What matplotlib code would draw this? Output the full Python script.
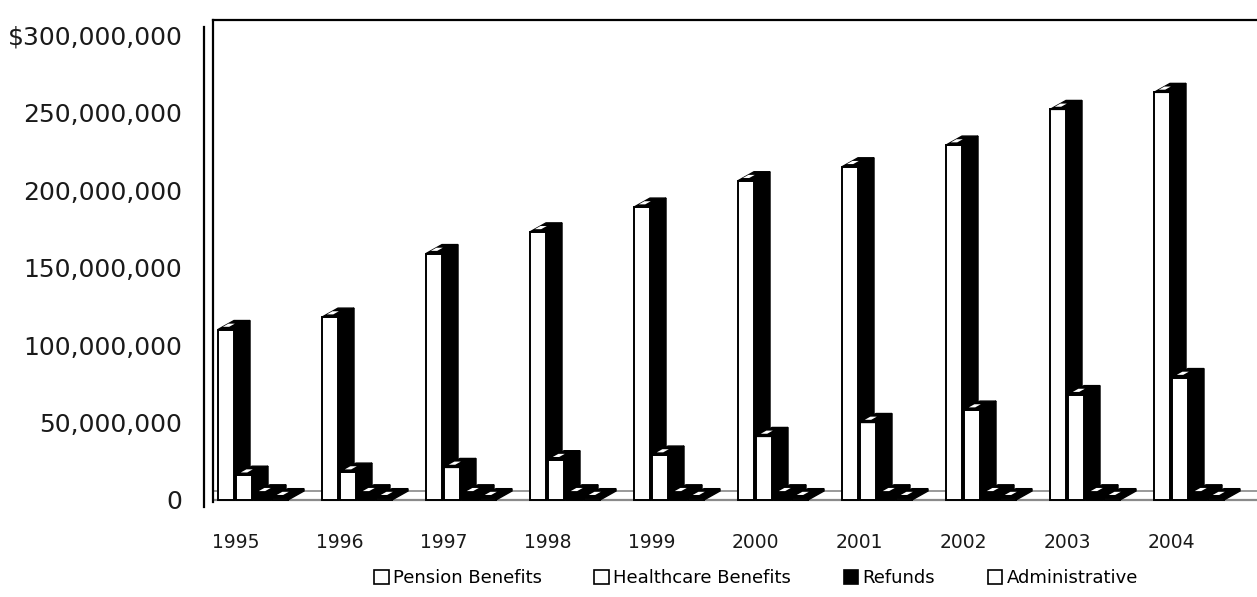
import matplotlib
matplotlib.use("Agg")
import matplotlib.pyplot as plt
from matplotlib.patches import Polygon, Patch
from matplotlib.ticker import FuncFormatter

years = ["1995", "1996", "1997", "1998", "1999", "2000", "2001", "2002", "2003", "2004"]
pension = [110e6, 118e6, 159e6, 173e6, 189e6, 206e6, 215e6, 229e6, 252e6, 263e6]
healthcare = [16e6, 18e6, 21e6, 26e6, 29e6, 41e6, 50e6, 58e6, 68e6, 79e6]
refunds = [4e6, 4e6, 4e6, 4e6, 4e6, 4e6, 4e6, 4e6, 4e6, 4e6]
administrative = [1.5e6, 1.5e6, 1.5e6, 1.5e6, 1.5e6, 1.5e6, 1.5e6, 1.5e6, 1.5e6, 1.5e6]

series_names = ["Pension Benefits", "Healthcare Benefits", "Refunds", "Administrative"]
series_values = [pension, healthcare, refunds, administrative]
series_fronts = ["white", "white", "black", "white"]

# fake 3D geometry, in data units
BAR_W = 0.154
STEP = 0.173
DEPTH_X = 0.154
DEPTH_Y = 5.8e6

plt.rcParams["font.family"] = "DejaVu Sans"

fig = plt.figure(figsize=(12.57, 5.97), dpi=100)
ax = fig.add_axes([213 / 1257, 95 / 597, 1044 / 1257, 482 / 597])
ax.set_xlim(-0.048, -0.048 + 1044 / 104)
ax.set_ylim(-1.3e6, 309.7e6)

# floor edges
ax.axhline(0, color="#8a8a8a", lw=1.6, zorder=1)
ax.axhline(DEPTH_Y, color="#9a9a9a", lw=1.4, zorder=1)

z = 2
for i in range(len(years)):
    for k, vals in enumerate(series_values):
        h = vals[i]
        x0 = i + k * STEP
        ax.bar(x0, h, width=BAR_W, align="edge", facecolor=series_fronts[k],
               edgecolor="black", linewidth=1.4, zorder=z + 1)
        side = Polygon([(x0 + BAR_W, 0), (x0 + BAR_W + DEPTH_X, DEPTH_Y),
                        (x0 + BAR_W + DEPTH_X, h + DEPTH_Y), (x0 + BAR_W, h)],
                       closed=True, facecolor="black", edgecolor="black", lw=1, zorder=z)
        top = Polygon([(x0, h), (x0 + BAR_W, h), (x0 + BAR_W + DEPTH_X, h + DEPTH_Y),
                       (x0 + DEPTH_X, h + DEPTH_Y)],
                      closed=True, facecolor="black", edgecolor="black", lw=1, zorder=z + 2)
        shine = Polygon([(x0 + 0.3 * BAR_W, h + 0.3 * DEPTH_Y),
                         (x0 + 0.7 * BAR_W, h + 0.3 * DEPTH_Y),
                         (x0 + 0.7 * BAR_W + 0.35 * DEPTH_X, h + 0.65 * DEPTH_Y),
                         (x0 + 0.3 * BAR_W + 0.35 * DEPTH_X, h + 0.65 * DEPTH_Y)],
                        closed=True, facecolor="white", edgecolor="none", zorder=z + 3)
        ax.add_patch(side)
        ax.add_patch(top)
        ax.add_patch(shine)
        z += 4

ax.set_xticks([i + 0.17 for i in range(len(years))])
ax.set_xticklabels(years, fontsize=13.5)
ax.set_yticks([0, 50e6, 100e6, 150e6, 200e6, 250e6, 300e6])


def money(v, pos):
    if v == 0:
        return "0"
    s = f"{int(v):,}"
    return "$" + s if v >= 300e6 else s


ax.yaxis.set_major_formatter(FuncFormatter(money))
ax.tick_params(axis="y", length=0, pad=22, labelsize=18, colors="#1a1a1a")
ax.tick_params(axis="x", length=0, pad=22, colors="#1a1a1a")

for side_name in ("right", "bottom"):
    ax.spines[side_name].set_visible(False)
ax.spines["left"].set_linewidth(1.6)
ax.spines["top"].set_linewidth(1.6)
ax.plot([-9 / 1044, -9 / 1044], [-0.01, 0.985], transform=ax.transAxes,
        color="black", lw=1.6, clip_on=False)

handles = [Patch(facecolor=c, edgecolor="black", linewidth=1.2) for c in series_fronts]
fig.legend(handles, series_names, loc="center", bbox_to_anchor=(756 / 1257, 1 - 578 / 597),
           ncol=4, frameon=False, fontsize=13, handlelength=0.8, handleheight=0.8,
           handletextpad=0.25, columnspacing=2.9)

fig.savefig("out.png", dpi=100)
